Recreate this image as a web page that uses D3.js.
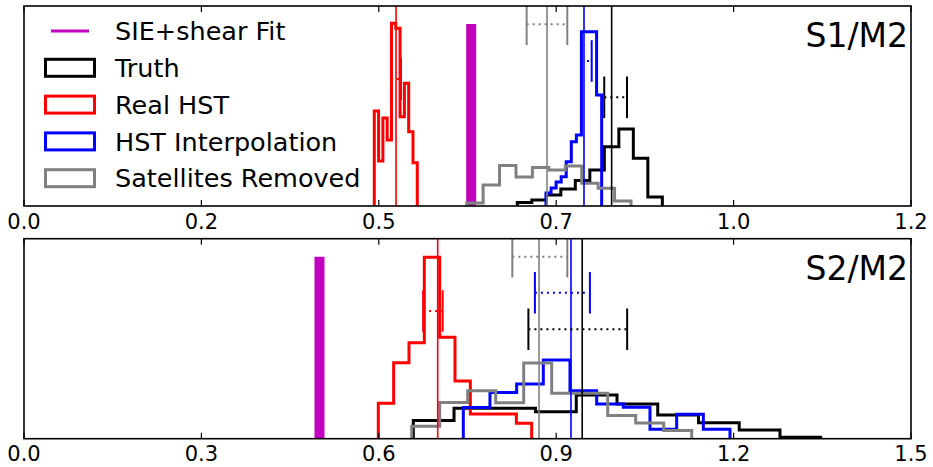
<!DOCTYPE html>
<html>
<head>
<meta charset="utf-8">
<script src="https://cdn.jsdelivr.net/npm/d3@7"></script>
<style>
  body { margin: 0; background: #fff; }
  svg { display: block; font-family: "DejaVu Sans", sans-serif; }
</style>
</head>
<body>
<div class="canva"></div>
<script>
const width = 933
const height = 467

// series order: Truth, Real HST, HST Interpolation, Satellites Removed
const seriesNames = ["Truth", "Real HST", "HST Interpolation", "Satellites Removed"]
const fitName = "SIE+shear Fit"

// ---- panel S1/M2 ----
const s1Ticks = [0, 0.24, 0.48, 0.72, 0.96, 1.2]
const s1Fit = 0.605
const s1BinStart = [0.6674, 0.4739, 0.7062, 0.5989]
const s1BinWidth = [0.01962, 0.005817, 0.006846, 0.02223]
const s1Truth = [0.0175, 0.03, 0.055, 0.085, 0.1275, 0.18, 0.2965, 0.385, 0.2385, 0.045]
const s1Real = [0.475, 0.225, 0.44, 0.33, 0.9135, 0.8885, 0.4465, 0.6135, 0.3715, 0.2165]
const s1Interp = [0.065, 0.09, 0.12, 0.1465, 0.2215, 0.3215, 0.355, 0.8715, 0.8715, 0.8715, 0.555]
const s1Sat = [0.015, 0.105, 0.2025, 0.145, 0.1925, 0.18, 0.2, 0.1135, 0.0885, 0.025]
const s1Median = [0.795, 0.5033, 0.7576, 0.7076]
const s1ErrLo = [0.785, 0.4965, 0.7536, 0.680]
const s1ErrHi = [0.8158, 0.510, 0.768, 0.735]
const s1ErrY = [0.5435, 0.635, 0.725, 0.9085]

// ---- panel S2/M2 ----
const s2Ticks = [0, 0.3, 0.6, 0.9, 1.2, 1.5]
const s2Fit = 0.4997
const s2BinStart = [0.65834, 0.59915, 0.7429, 0.65565]
const s2BinWidth = [0.068896, 0.025942, 0.045101, 0.04735]
const s2Truth = [0.091, 0.152, 0.152, 0.135, 0.2185, 0.1735, 0.1185, 0.08, 0.0435, 0.007]
const s2Real = [0.177, 0.38, 0.48, 0.907, 0.507, 0.2885, 0.1235, 0.1235, 0.1235, 0.077]
const s2Interp = [0.156, 0.231, 0.2735, 0.3935, 0.24, 0.1735, 0.157, 0.047, 0.122, 0.047]
const s2Sat = [0.062, 0.181, 0.24, 0.18, 0.3785, 0.227, 0.227, 0.116, 0.0785, 0.041]
const s2Median = [0.944, 0.6996, 0.925, 0.871]
const s2ErrLo = [0.853, 0.675, 0.864, 0.8258]
const s2ErrHi = [1.020, 0.708, 0.957, 0.9188]
const s2ErrY = [0.547, 0.6385, 0.73, 0.91]

const colors = ["#000000", "#ff0000", "#0000ff", "#808080"]
const fitColor = "#bf00bf"

const panels = [
  { label: "S1/M2", top: 6, xmax: 1.2, ticks: s1Ticks, fit: s1Fit, start: s1BinStart, bw: s1BinWidth,
    hists: [s1Truth, s1Real, s1Interp, s1Sat], median: s1Median, lo: s1ErrLo, hi: s1ErrHi, ey: s1ErrY },
  { label: "S2/M2", top: 238.7, xmax: 1.5, ticks: s2Ticks, fit: s2Fit, start: s2BinStart, bw: s2BinWidth,
    hists: [s2Truth, s2Real, s2Interp, s2Sat], median: s2Median, lo: s2ErrLo, hi: s2ErrHi, ey: s2ErrY }
]

const left = 24, right = 911, panelH = 200

const svg = d3.select(".canva").append("svg").attr("width", width).attr("height", height)

panels.forEach((p, pi) => {
  const x = d3.scaleLinear().domain([0, p.xmax]).range([left, right])
  const y = d3.scaleLinear().domain([0, 1]).range([p.top + panelH, p.top])
  const g = svg.append("g")
  const clipId = "clip" + pi
  g.append("clipPath").attr("id", clipId).append("rect")
    .attr("x", left).attr("y", p.top).attr("width", right - left).attr("height", panelH)
  const plot = g.append("g").attr("clip-path", `url(#${clipId})`)

  // fit bar
  plot.append("line")
    .attr("x1", x(p.fit)).attr("x2", x(p.fit))
    .attr("y1", y(0)).attr("y2", y(0.91))
    .attr("stroke", fitColor).attr("stroke-width", 10)

  // step histograms
  p.hists.forEach((h, i) => {
    const pts = [[p.start[i], 0]]
    h.forEach((v, j) => {
      pts.push([p.start[i] + j * p.bw[i], v])
      pts.push([p.start[i] + (j + 1) * p.bw[i], v])
    })
    pts.push([p.start[i] + h.length * p.bw[i], 0])
    plot.append("path")
      .attr("d", d3.line().x(d => x(d[0])).y(d => y(d[1]))(pts))
      .attr("fill", "none").attr("stroke", colors[i]).attr("stroke-width", 3)
      .attr("stroke-linejoin", "miter")
  })

  // median lines
  p.median.forEach((m, i) => {
    plot.append("line")
      .attr("x1", x(m)).attr("x2", x(m)).attr("y1", y(0)).attr("y2", y(1))
      .attr("stroke", colors[i]).attr("stroke-width", 1.6)
  })

  // error bars
  p.lo.forEach((lo, i) => {
    const eg = plot.append("g").attr("stroke", colors[i])
    eg.append("line")
      .attr("x1", x(lo)).attr("x2", x(p.hi[i])).attr("y1", y(p.ey[i])).attr("y2", y(p.ey[i]))
      .attr("stroke-width", 2).attr("stroke-dasharray", "2,4")
    ;[lo, p.hi[i]].forEach(c => {
      eg.append("line")
        .attr("x1", x(c)).attr("x2", x(c))
        .attr("y1", y(p.ey[i] - 0.104)).attr("y2", y(p.ey[i] + 0.104))
        .attr("stroke-width", 2)
    })
  })

  // frame
  g.append("rect").attr("x", left).attr("y", p.top).attr("width", right - left).attr("height", panelH)
    .attr("fill", "none").attr("stroke", "#000").attr("stroke-width", 1.6)

  // ticks inside, top and bottom
  const fmt = d3.format(".1f")
  p.ticks.forEach(t => {
    g.append("line").attr("x1", x(t)).attr("x2", x(t)).attr("y1", y(0)).attr("y2", y(0) - 6)
      .attr("stroke", "#000").attr("stroke-width", 1.2)
    g.append("line").attr("x1", x(t)).attr("x2", x(t)).attr("y1", y(1)).attr("y2", y(1) + 6)
      .attr("stroke", "#000").attr("stroke-width", 1.2)
    g.append("text").attr("x", x(t)).attr("y", y(0) + 22.5)
      .attr("text-anchor", "middle").attr("font-size", 21).text(fmt(t))
  })

  g.append("text").attr("x", 908).attr("y", p.top + 41)
    .attr("text-anchor", "end").attr("font-size", 33).text(p.label)
})

// legend (top panel)
const legend = svg.append("g")
const rowY = d3.range(5).map(i => 31 + i * 36.8)
legend.append("line").attr("x1", 51).attr("x2", 89).attr("y1", rowY[0]).attr("y2", rowY[0])
  .attr("stroke", fitColor).attr("stroke-width", 3)
legend.append("text").attr("x", 115).attr("y", rowY[0]).attr("dy", "0.36em")
  .attr("font-size", 25.5).text(fitName)
seriesNames.forEach((name, i) => {
  legend.append("rect").attr("x", 45.5).attr("y", rowY[i + 1] - 8.5).attr("width", 49).attr("height", 17)
    .attr("fill", "none").attr("stroke", colors[i]).attr("stroke-width", 3)
  legend.append("text").attr("x", 115).attr("y", rowY[i + 1]).attr("dy", "0.36em")
    .attr("font-size", 25.5).text(name)
})
</script>
</body>
</html>
